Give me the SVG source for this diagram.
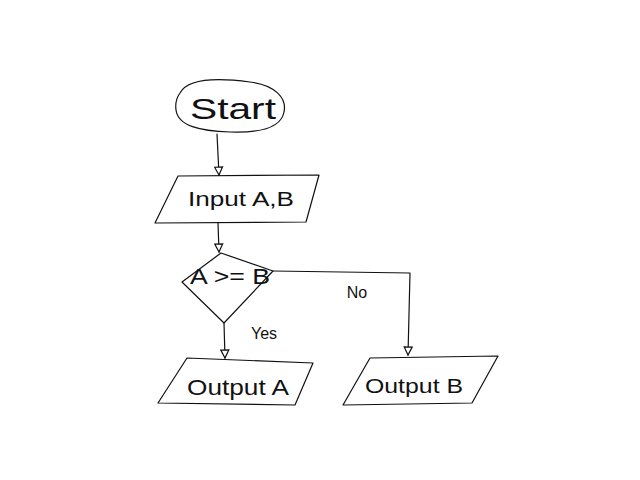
<svg xmlns="http://www.w3.org/2000/svg" width="640" height="480" viewBox="0 0 640 480">
<defs>
<style>
.s{fill:none;stroke:#111;stroke-width:1.2;stroke-linejoin:round;stroke-linecap:round}
.t{font-family:"Liberation Sans","DejaVu Sans",sans-serif;fill:#111;text-anchor:middle}
</style>
<marker id="ah" viewBox="0 0 10 10" refX="9" refY="5" markerWidth="10" markerHeight="10" orient="auto" markerUnits="userSpaceOnUse">
<path d="M1,1 L9,5 L1,9 Z" fill="#fff" stroke="#111" stroke-width="1.2"/>
</marker>
</defs>
<rect width="640" height="480" fill="#fff"/>
<g id="start">
<path class="s" d="M180,93 C188,78 220,78 250,82 C275,85 287,98 284,112 C281,128 258,133 230,132 C200,131 178,126 176,110 C175,102 177,97 180,93 Z"/>
<text class="t" x="233" y="119" font-size="30" textLength="86" lengthAdjust="spacingAndGlyphs">Start</text>
</g>
<g id="input">
<path class="s" d="M178,176 L319,175 L306,222 L155,223 Z"/>
<text class="t" x="241" y="206" font-size="20" textLength="106" lengthAdjust="spacingAndGlyphs">Input A,B</text>
</g>
<g id="decision">
<path class="s" d="M182,282 L221,253 L273,271 L224,323 Z"/>
<text class="t" x="230" y="284" font-size="22" textLength="80" lengthAdjust="spacingAndGlyphs">A &gt;= B</text>
</g>
<g id="outA">
<path class="s" d="M187,358 L313,363 L295,405 L158,403 Z"/>
<text class="t" x="238" y="395" font-size="22" textLength="102" lengthAdjust="spacingAndGlyphs">Output A</text>
</g>
<g id="outB">
<path class="s" d="M370,358 L498,356 L472,403 L343,405 Z"/>
<text class="t" x="414" y="393" font-size="21" textLength="98" lengthAdjust="spacingAndGlyphs">Output B</text>
</g>
<g id="connectors">
<path class="s" d="M217,134 L219,175" marker-end="url(#ah)"/>
<path class="s" d="M218,223 L219,252" marker-end="url(#ah)"/>
<path class="s" d="M224,323 L225,358" marker-end="url(#ah)"/>
<path class="s" d="M273,271 L410,273 L408,355" marker-end="url(#ah)"/>
<text class="t" x="357" y="298" font-size="16">No</text>
<text class="t" x="264" y="339" font-size="16">Yes</text>
</g>
</svg>
